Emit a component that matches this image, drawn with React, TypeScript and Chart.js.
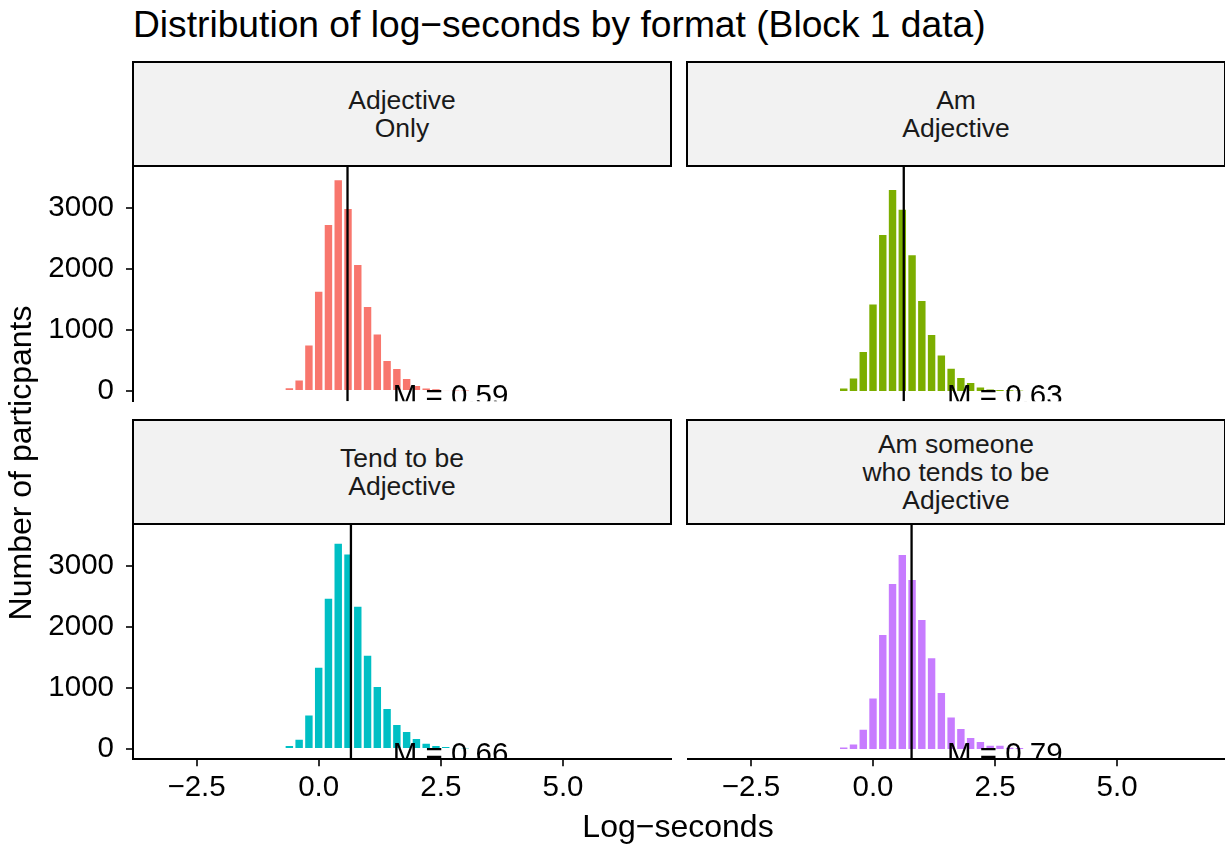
import React, { useEffect, useRef } from 'react';
import { Chart, registerables } from 'chart.js';

Chart.register(...registerables);

const FONT = '"Liberation Sans", Arial, Helvetica, sans-serif';
Chart.defaults.font.family = FONT;

const PAGE_W = 1225;
const PAGE_H = 848;

// Histogram bin centres (bin width 0.2 log-seconds), shared by every format
const binCenters = [-0.6, -0.4, -0.2, 0.0, 0.2, 0.4, 0.6, 0.8, 1.0, 1.2, 1.4, 1.6, 1.8, 2.0, 2.2, 2.4, 2.6, 2.8, 3.0];

// Number of participants per bin, one list per response format
const countsAdjectiveOnly = [60, 190, 764, 1642, 2733, 3465, 2995, 2079, 1391, 944, 507, 376, 213, 98, 49, 30, 15, 8, 4];
const countsAmAdjective = [60, 224, 655, 1435, 2569, 3306, 2984, 2237, 1489, 933, 600, 382, 229, 147, 76, 38, 20, 10, 5];
const countsTendToBe = [65, 169, 567, 1347, 2477, 3377, 3202, 2346, 1544, 1031, 671, 409, 295, 180, 104, 65, 33, 15, 8];
const countsAmSomeone = [33, 93, 333, 846, 1882, 2717, 3191, 2782, 2128, 1501, 933, 535, 344, 196, 131, 71, 71, 28, 20];

const formatStripLines = [
  ['Adjective', 'Only'],
  ['Am', 'Adjective'],
  ['Tend to be', 'Adjective'],
  ['Am someone', 'who tends to be', 'Adjective'],
];
const formatMeans = [0.59, 0.63, 0.66, 0.79];
const formatColors = ['#F8766D', '#7CAE00', '#00BFC4', '#C77CFF'];
const formatCounts = [countsAdjectiveOnly, countsAmAdjective, countsTendToBe, countsAmSomeone];

const xTickValues = [-2.5, 0, 2.5, 5];
const yTickValues = [0, 1000, 2000, 3000];

// Shared axis limits for all facets
const X_MIN = -3.8;
const X_MAX = 7.2;
const Y_MIN = -170;
const Y_MAX = 3680;

// Where the "M = ..." note sits, in data units
const NOTE_X = 2.7;
const NOTE_Y = -105;

// Facet grid geometry (page pixels)
const COLS = [
  { left: 133, right: 670.5 },
  { left: 687.5, right: 1224.5 },
];
const ROWS = [
  { stripTop: 61, plotTop: 166, plotBottom: 401.3 },
  { stripTop: 419, plotTop: 524, plotBottom: 759.3 },
];
const STRIP_H = 106;
const Y_AXIS_W = 133;
const X_AXIS_H = 60;

const TICK_FONT = 29.5;

function formatX(v: number): string {
  return (v < 0 ? '\u2212' : '') + Math.abs(v).toFixed(1);
}

const meanMarker = {
  id: 'meanMarker',
  afterDatasetsDraw(chart: any, _args: any, opts: any) {
    const { ctx, chartArea, scales } = chart;
    const xPix = scales.x.getPixelForValue(opts.mean);
    ctx.save();
    ctx.beginPath();
    ctx.rect(chartArea.left, chartArea.top, chartArea.right - chartArea.left, chartArea.bottom - chartArea.top);
    ctx.clip();
    ctx.strokeStyle = '#000000';
    ctx.lineWidth = 2.3;
    ctx.beginPath();
    ctx.moveTo(xPix, chartArea.top);
    ctx.lineTo(xPix, chartArea.bottom);
    ctx.stroke();
    ctx.fillStyle = '#000000';
    ctx.font = `${TICK_FONT}px ${FONT}`;
    ctx.textAlign = 'center';
    ctx.textBaseline = 'middle';
    ctx.fillText(
      `M = ${opts.mean.toFixed(2)}`,
      scales.x.getPixelForValue(NOTE_X),
      scales.y.getPixelForValue(NOTE_Y)
    );
    ctx.restore();
  },
};

function HistogramPanel({ index }: { index: number }) {
  const ref = useRef<HTMLCanvasElement>(null);

  useEffect(() => {
    const canvas = ref.current;
    if (!canvas) return;
    const col = COLS[index % 2];
    const row = ROWS[Math.floor(index / 2)];
    const showY = index % 2 === 0;
    const showX = index >= 2;

    const padding = {
      left: showY ? col.left - Y_AXIS_W : col.left,
      right: PAGE_W - col.right,
      top: row.plotTop,
      bottom: PAGE_H - row.plotBottom - (showX ? X_AXIS_H : 0),
    };

    const counts = formatCounts[index];

    const axisGrid = {
      display: true,
      drawOnChartArea: false,
      drawTicks: true,
      offset: false,
      tickLength: 7,
      tickColor: '#333333',
      tickWidth: 2,
      color: '#333333',
      lineWidth: 2,
    };

    const chart = new Chart(canvas, {
      type: 'bar',
      data: {
        datasets: [
          {
            data: binCenters.map((x, i) => ({ x, y: counts[i] })),
            backgroundColor: formatColors[index],
            borderColor: '#FFFFFF',
            borderWidth: 1.5,
            borderSkipped: 'start',
            barPercentage: 1,
            categoryPercentage: 1,
          } as any,
        ],
      },
      options: {
        responsive: false,
        animation: false,
        events: [],
        layout: { padding },
        plugins: {
          legend: { display: false },
          tooltip: { enabled: false },
          title: { display: false },
          meanMarker: { mean: formatMeans[index] },
        } as any,
        scales: {
          x: {
            type: 'linear',
            offset: false,
            min: X_MIN,
            max: X_MAX,
            display: showX,
            afterBuildTicks: (s: any) => {
              s.ticks = xTickValues.map((v) => ({ value: v }));
            },
            afterFit: (s: any) => {
              if (showX) s.height = X_AXIS_H;
            },
            grid: axisGrid,
            border: { display: true, color: '#000000', width: 2 },
            ticks: {
              color: '#000000',
              font: { size: TICK_FONT },
              padding: 4,
              maxRotation: 0,
              autoSkip: false,
              callback: (v: any) => formatX(Number(v)),
            },
          },
          y: {
            type: 'linear',
            offset: false,
            min: Y_MIN,
            max: Y_MAX,
            display: showY,
            afterBuildTicks: (s: any) => {
              s.ticks = yTickValues.map((v) => ({ value: v }));
            },
            afterFit: (s: any) => {
              if (showY) s.width = Y_AXIS_W;
            },
            grid: axisGrid,
            border: { display: true, color: '#000000', width: 2 },
            ticks: {
              color: '#000000',
              font: { size: TICK_FONT },
              padding: 12,
              autoSkip: false,
              callback: (v: any) => String(v),
            },
          },
        },
      } as any,
      plugins: [meanMarker as any],
    });

    return () => chart.destroy();
  }, [index]);

  return (
    <canvas
      ref={ref}
      width={PAGE_W}
      height={PAGE_H}
      style={{ position: 'absolute', left: 0, top: 0, width: PAGE_W, height: PAGE_H }}
    />
  );
}

function Strip({ index }: { index: number }) {
  const col = COLS[index % 2];
  const row = ROWS[Math.floor(index / 2)];
  const left = Math.floor(col.left) - 1;
  const right = Math.ceil(col.right) + 1;
  return (
    <div
      style={{
        position: 'absolute',
        left,
        top: row.stripTop,
        width: right - left,
        height: STRIP_H,
        boxSizing: 'border-box',
        border: '2px solid #000000',
        background: '#F2F2F2',
        display: 'flex',
        flexDirection: 'column',
        justifyContent: 'center',
        alignItems: 'center',
        textAlign: 'center',
        color: '#1A1A1A',
        fontFamily: FONT,
        fontSize: 26.5,
        lineHeight: '28px',
      }}
    >
      {formatStripLines[index].map((line) => (
        <div key={line}>{line}</div>
      ))}
    </div>
  );
}

export default function App() {
  return (
    <div
      style={{
        position: 'absolute',
        left: 0,
        top: 0,
        width: PAGE_W,
        height: PAGE_H,
        background: '#FFFFFF',
        overflow: 'hidden',
        fontFamily: FONT,
      }}
    >
      <div
        style={{
          position: 'absolute',
          left: 133,
          top: 6,
          fontSize: 37.2,
          lineHeight: '37px',
          color: '#000000',
          whiteSpace: 'nowrap',
        }}
      >
        Distribution of log−seconds by format (Block 1 data)
      </div>

      {[0, 1, 2, 3].map((i) => (
        <Strip key={`s${i}`} index={i} />
      ))}
      {[0, 1, 2, 3].map((i) => (
        <HistogramPanel key={`p${i}`} index={i} />
      ))}

      <div
        style={{
          position: 'absolute',
          left: 378,
          width: 600,
          top: 810,
          textAlign: 'center',
          fontSize: 32,
          lineHeight: '32px',
          color: '#000000',
          whiteSpace: 'nowrap',
        }}
      >
        Log−seconds
      </div>

      <div
        style={{
          position: 'absolute',
          left: 20 - 250,
          top: 463 - 16,
          width: 500,
          height: 32,
          textAlign: 'center',
          fontSize: 32,
          lineHeight: '32px',
          color: '#000000',
          whiteSpace: 'nowrap',
          transform: 'rotate(-90deg)',
          transformOrigin: 'center center',
        }}
      >
        Number of particpants
      </div>
    </div>
  );
}
